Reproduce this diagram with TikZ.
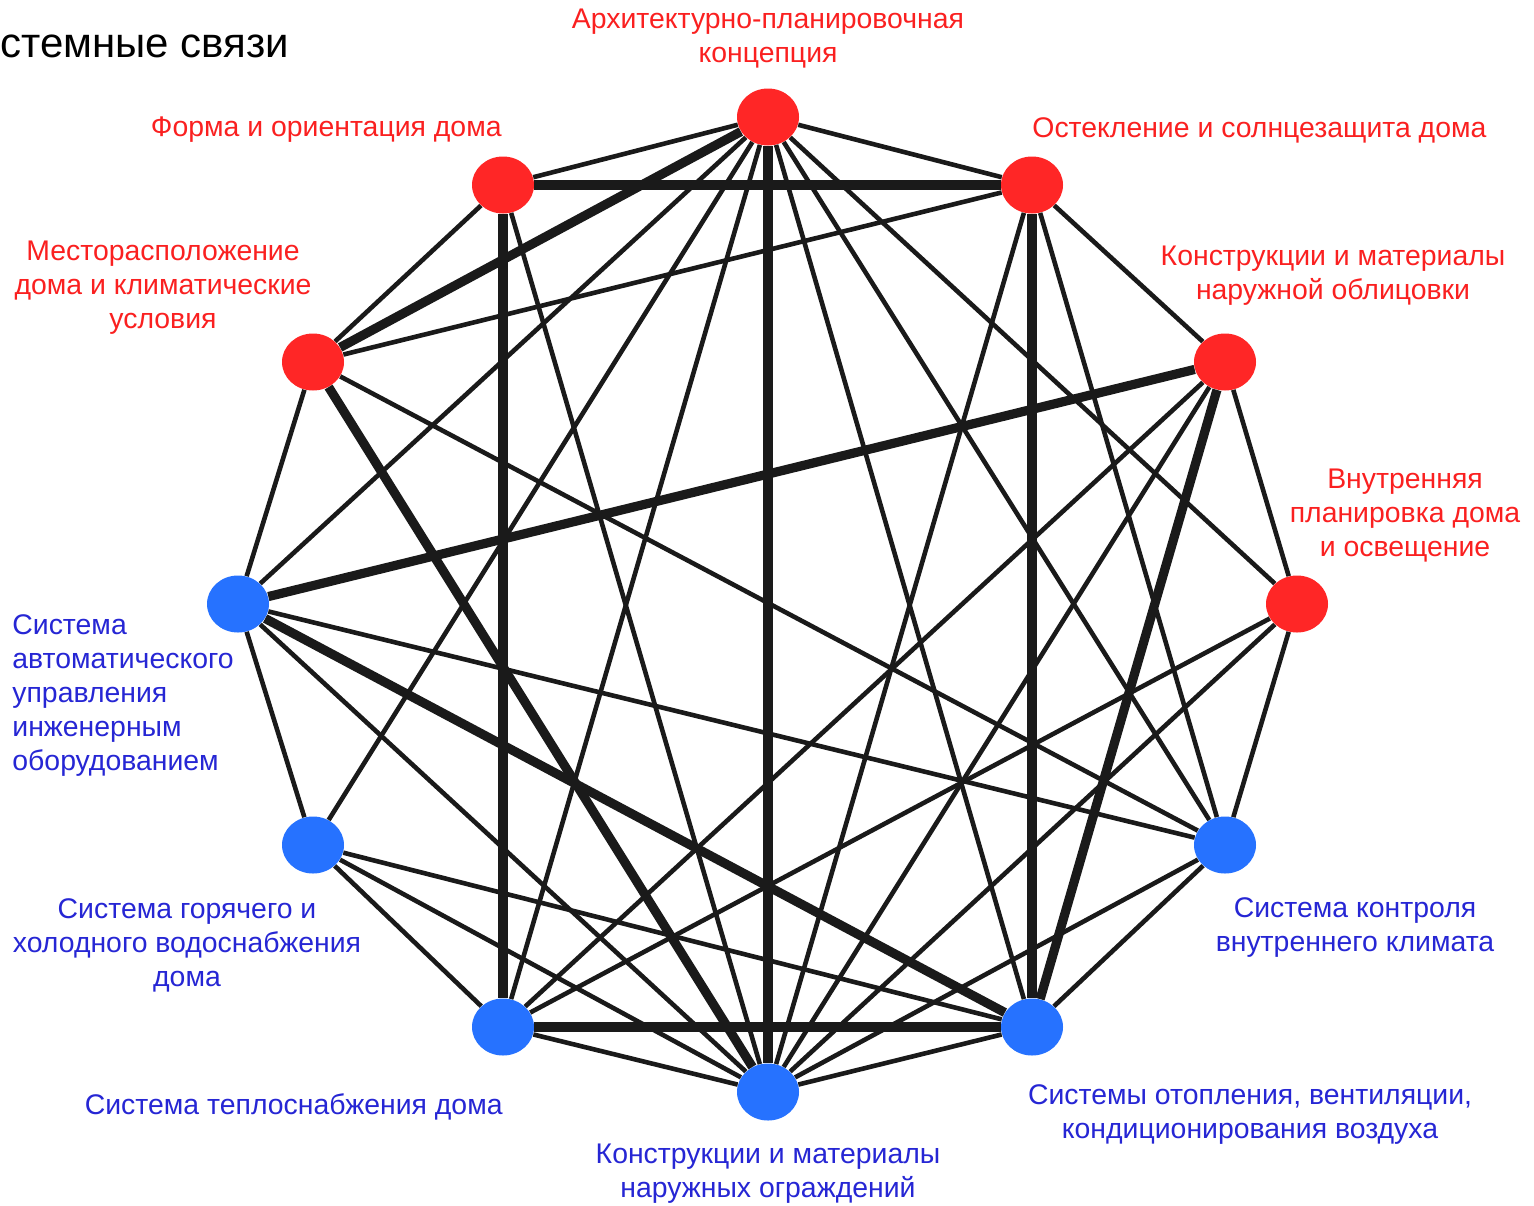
\documentclass[tikz,border=0pt]{standalone}
\usepackage{fontspec}
\setmainfont{Liberation Sans}
\usetikzlibrary{shapes.geometric}

\definecolor{dotred}{RGB}{255,38,38}
\definecolor{dotblue}{RGB}{38,114,255}
\definecolor{txtred}{RGB}{250,32,32}
\definecolor{txtblue}{RGB}{38,38,212}
\definecolor{linkcol}{RGB}{26,26,26}

\begin{document}
\begin{tikzpicture}[x=0.5pt, y=-0.5pt,
  dot/.style={draw=none, ellipse, minimum width=31pt, minimum height=28.5pt, inner sep=0pt},
  reddot/.style={dot, fill=dotred},
  bluedot/.style={dot, fill=dotblue},
  lbl/.style={font=\fontsize{14.2}{17}\selectfont, inner sep=0pt, align=center},
  redlbl/.style={lbl, text=txtred},
  bluelbl/.style={lbl, text=txtblue},
  link/.style={draw=linkcol, line width=2.3pt},
  strong/.style={draw=linkcol, line width=4.6pt}]
  \useasboundingbox (0,0) rectangle (1534,1205);

  \node[font=\fontsize{21}{24}\selectfont, inner sep=0pt, anchor=west] (title) at (0,46) {стемные связи};

  % architecture group (red)
  \node[reddot] (arch) at (768,117) {};
  \node[reddot] (glaz) at (1032,185) {};
  \node[reddot] (clad) at (1225,362) {};
  \node[reddot] (plan) at (1297,604) {};
  \node[reddot] (site) at (313,362) {};
  \node[reddot] (form) at (503,185) {};
  % engineering group (blue)
  \node[bluedot] (clim) at (1225,845) {};
  \node[bluedot] (hvac) at (1032,1027) {};
  \node[bluedot] (encl) at (768,1092) {};
  \node[bluedot] (heat) at (503,1027) {};
  \node[bluedot] (water) at (313,845) {};
  \node[bluedot] (auto) at (238,604) {};

  \node[redlbl] (archlbl) at (768,39) {Архитектурно-планировочная\\концепция};
  \node[redlbl, anchor=east] (formlbl) at (502,130) {Форма и ориентация дома};
  \node[redlbl, anchor=west] (glazlbl) at (1032,130) {Остекление и солнцезащита дома};
  \node[redlbl] (sitelbl) at (163,288) {Месторасположение\\дома и климатические\\условия};
  \node[redlbl] (cladlbl) at (1333,276) {Конструкции и материалы\\наружной облицовки};
  \node[redlbl] (planlbl) at (1405,516) {Внутренняя\\планировка дома\\и освещение};
  \node[bluelbl, align=left, anchor=west] (autolbl) at (12,696) {Система\\автоматического\\управления\\инженерным\\оборудованием};
  \node[bluelbl] (climlbl) at (1355,928) {Система контроля\\внутреннего климата};
  \node[bluelbl] (waterlbl) at (187,945) {Система горячего и\\холодного водоснабжения\\дома};
  \node[bluelbl] (hvaclbl) at (1250,1115) {Системы отопления, вентиляции,\\кондиционирования воздуха};
  \node[bluelbl, anchor=east] (heatlbl) at (503,1107) {Система теплоснабжения дома};
  \node[bluelbl] (encllbl) at (768,1174) {Конструкции и материалы\\наружных ограждений};

  \draw[link] (arch) -- (form);
  \draw[link] (arch) -- (glaz);
  \draw[link] (arch) -- (auto);
  \draw[link] (arch) -- (water);
  \draw[link] (arch) -- (heat);
  \draw[link] (arch) -- (hvac);
  \draw[link] (arch) -- (clim);
  \draw[link] (arch) -- (plan);
  \draw[link] (glaz) -- (site);
  \draw[link] (glaz) -- (encl);
  \draw[link] (glaz) -- (clim);
  \draw[link] (glaz) -- (clad);
  \draw[link] (clad) -- (plan);
  \draw[link] (clad) -- (encl);
  \draw[link] (clad) -- (heat);
  \draw[link] (plan) -- (heat);
  \draw[link] (plan) -- (encl);
  \draw[link] (plan) -- (clim);
  \draw[link] (clim) -- (site);
  \draw[link] (clim) -- (auto);
  \draw[link] (clim) -- (encl);
  \draw[link] (clim) -- (hvac);
  \draw[link] (hvac) -- (water);
  \draw[link] (hvac) -- (encl);
  \draw[link] (encl) -- (heat);
  \draw[link] (encl) -- (water);
  \draw[link] (encl) -- (auto);
  \draw[link] (encl) -- (form);
  \draw[link] (heat) -- (water);
  \draw[link] (water) -- (auto);
  \draw[link] (auto) -- (site);
  \draw[link] (site) -- (form);
  \draw[strong] (arch) -- (site);
  \draw[strong] (arch) -- (encl);
  \draw[strong] (form) -- (glaz);
  \draw[strong] (form) -- (heat);
  \draw[strong] (site) -- (encl);
  \draw[strong] (auto) -- (clad);
  \draw[strong] (auto) -- (hvac);
  \draw[strong] (clad) -- (hvac);
  \draw[strong] (glaz) -- (hvac);
  \draw[strong] (heat) -- (hvac);
\end{tikzpicture}
\end{document}
